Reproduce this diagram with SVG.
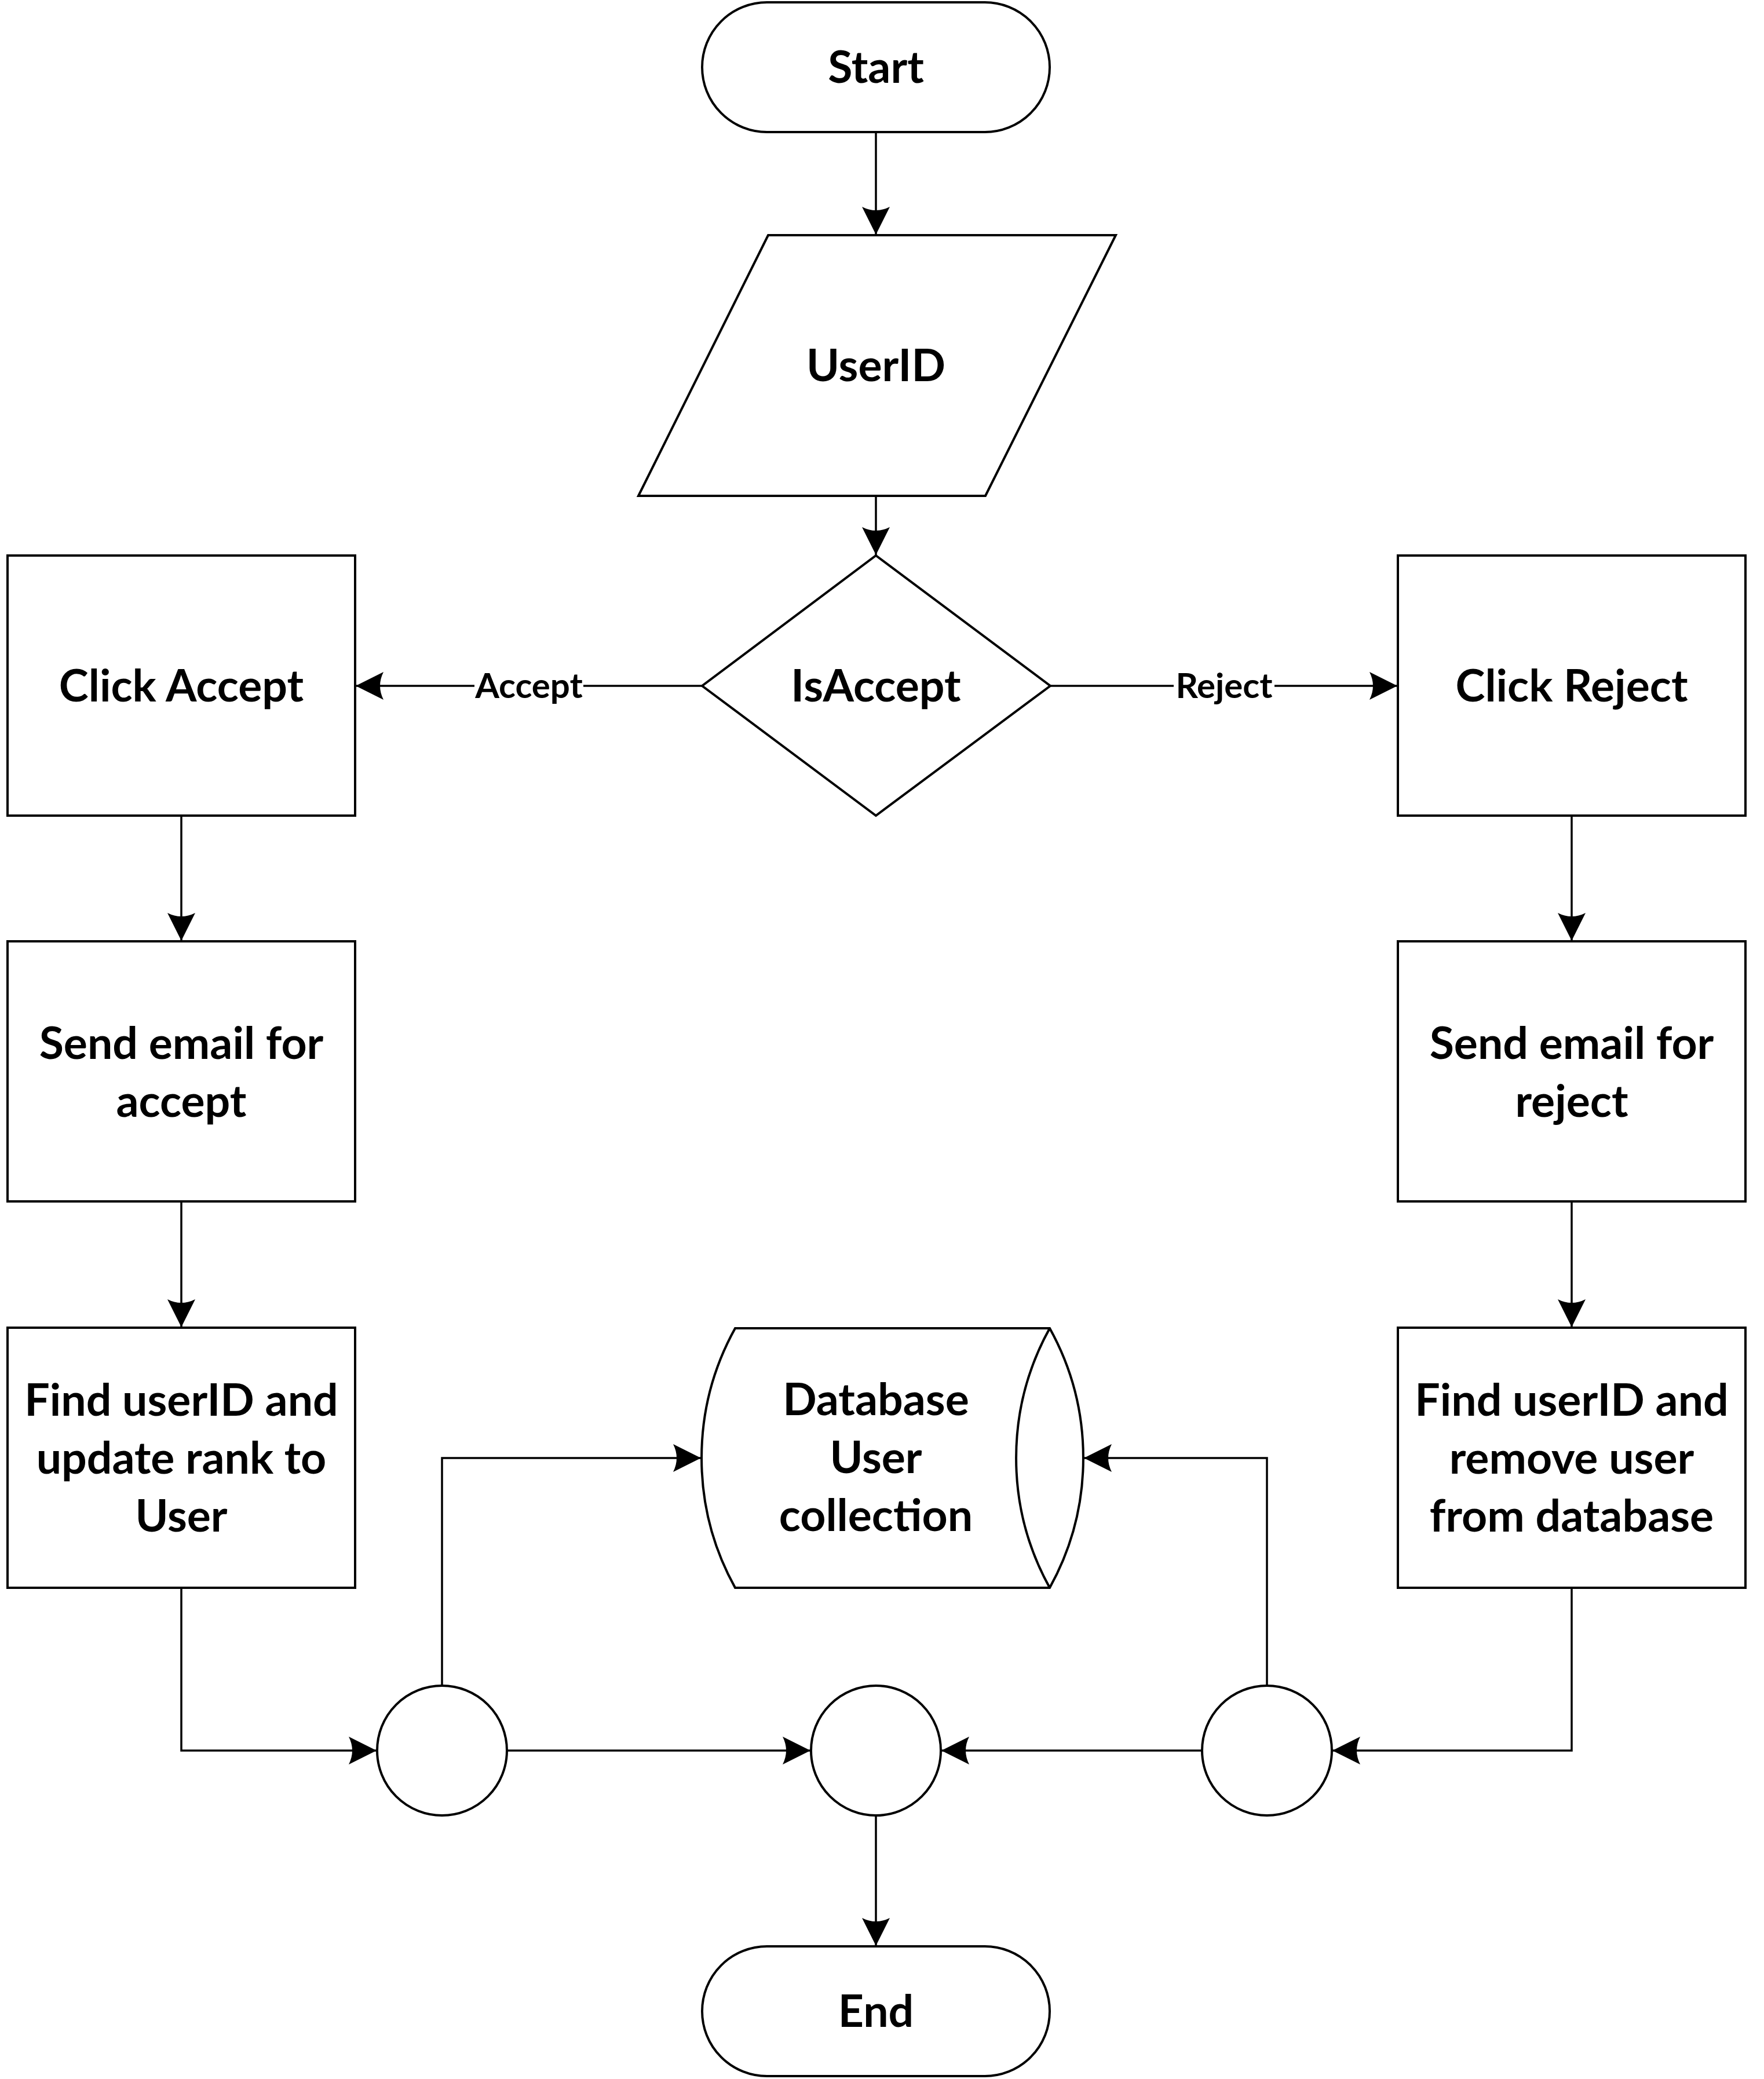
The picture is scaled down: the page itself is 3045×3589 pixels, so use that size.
<svg xmlns="http://www.w3.org/2000/svg" width="3045" height="3589" viewBox="0 0 3045 3589">
<defs>
<style>
.shape{fill:#fff;stroke:#000;stroke-width:4;stroke-linejoin:miter}
.conn{fill:none;stroke:#000;stroke-width:3.5}
.t{font-family:Lato,"Liberation Sans",Arial,sans-serif;font-weight:bold;font-size:77px;fill:#000;text-anchor:middle}
.lbl{font-family:Lato,"Liberation Sans",Arial,sans-serif;font-weight:bold;font-size:60px;fill:#000;text-anchor:middle}
</style>
<marker id="arr" viewBox="-50 -26 52 52" refX="0" refY="0" markerWidth="52" markerHeight="52" markerUnits="userSpaceOnUse" orient="auto">
<path d="M0,0 L-48,-24 Q-36,0 -48,24 Z" fill="#000"/>
</marker>
</defs>
<rect width="3045" height="3589" fill="#fff"/>
<g id="connectors">
<path class="conn" d="M1512,228 V405" marker-end="url(#arr)"/>
<path class="conn" d="M1512,856 V958" marker-end="url(#arr)"/>
<path class="conn" d="M1212,1184 H614" marker-end="url(#arr)"/>
<path class="conn" d="M1813,1184 H2412" marker-end="url(#arr)"/>
<path class="conn" d="M313,1408 V1624" marker-end="url(#arr)"/>
<path class="conn" d="M313,2074 V2291" marker-end="url(#arr)"/>
<path class="conn" d="M2713,1408 V1624" marker-end="url(#arr)"/>
<path class="conn" d="M2713,2074 V2291" marker-end="url(#arr)"/>
<path class="conn" d="M313,2741 V3022 H650" marker-end="url(#arr)"/>
<path class="conn" d="M2713,2741 V3022 H2300" marker-end="url(#arr)"/>
<path class="conn" d="M875,3022 H1399" marker-end="url(#arr)"/>
<path class="conn" d="M2075,3022 H1625" marker-end="url(#arr)"/>
<path class="conn" d="M763,2910 V2517 H1210" marker-end="url(#arr)"/>
<path class="conn" d="M2187,2910 V2517 H1871" marker-end="url(#arr)"/>
<path class="conn" d="M1512,3134 V3359" marker-end="url(#arr)"/>
<g id="label-accept">
<rect x="819" y="1158" width="188" height="56" fill="#fff"/>
<text class="lbl" x="913" y="1205">Accept</text>
</g>
<g id="label-reject">
<rect x="2026" y="1158" width="174" height="56" fill="#fff"/>
<text class="lbl" x="2113" y="1205">Reject</text>
</g>
</g>
<g id="start">
<rect class="shape" x="1212" y="4" width="600" height="224" rx="112" ry="112"/>
<text class="t" x="1512" y="143">Start</text>
</g>
<g id="userid">
<polygon class="shape" points="1326,406 1926,406 1701,856 1102,856"/>
<text class="t" x="1512" y="658">UserID</text>
</g>
<g id="isaccept">
<polygon class="shape" points="1512,959 1813,1184 1512,1408 1212,1184"/>
<text class="t" x="1512" y="1211">IsAccept</text>
</g>
<g id="click-accept">
<rect class="shape" x="13" y="959" width="600" height="449"/>
<text class="t" x="313" y="1211">Click Accept</text>
</g>
<g id="click-reject">
<rect class="shape" x="2413" y="959" width="600" height="449"/>
<text class="t" x="2713" y="1211">Click Reject</text>
</g>
<g id="send-accept">
<rect class="shape" x="13" y="1625" width="600" height="449"/>
<text class="t" x="313" y="1828">Send email for</text>
<text class="t" x="313" y="1928">accept</text>
</g>
<g id="send-reject">
<rect class="shape" x="2413" y="1625" width="600" height="449"/>
<text class="t" x="2713" y="1828">Send email for</text>
<text class="t" x="2713" y="1928">reject</text>
</g>
<g id="find-update">
<rect class="shape" x="13" y="2292" width="600" height="449"/>
<text class="t" x="313" y="2444">Find userID and</text>
<text class="t" x="313" y="2544">update rank to</text>
<text class="t" x="313" y="2644">User</text>
</g>
<g id="find-remove">
<rect class="shape" x="2413" y="2292" width="600" height="449"/>
<text class="t" x="2713" y="2444">Find userID and</text>
<text class="t" x="2713" y="2544">remove user</text>
<text class="t" x="2713" y="2644">from database</text>
</g>
<g id="database">
<path class="shape" d="M1269,2293 H1812 A462,462 0 0 1 1812,2741 H1269 A462,462 0 0 1 1269,2293 Z"/>
<path class="shape" fill="none" d="M1812,2293 A462,462 0 0 0 1812,2741"/>
<text class="t" x="1512" y="2443">Database</text>
<text class="t" x="1512" y="2543">User</text>
<text class="t" x="1512" y="2643">collection</text>
</g>
<g id="junction-left">
<circle class="shape" cx="763" cy="3022" r="112"/>
</g>
<g id="junction-center">
<circle class="shape" cx="1512" cy="3022" r="112"/>
</g>
<g id="junction-right">
<circle class="shape" cx="2187" cy="3022" r="112"/>
</g>
<g id="end">
<rect class="shape" x="1212" y="3360" width="600" height="224" rx="112" ry="112"/>
<text class="t" x="1512" y="3499">End</text>
</g>
</svg>
